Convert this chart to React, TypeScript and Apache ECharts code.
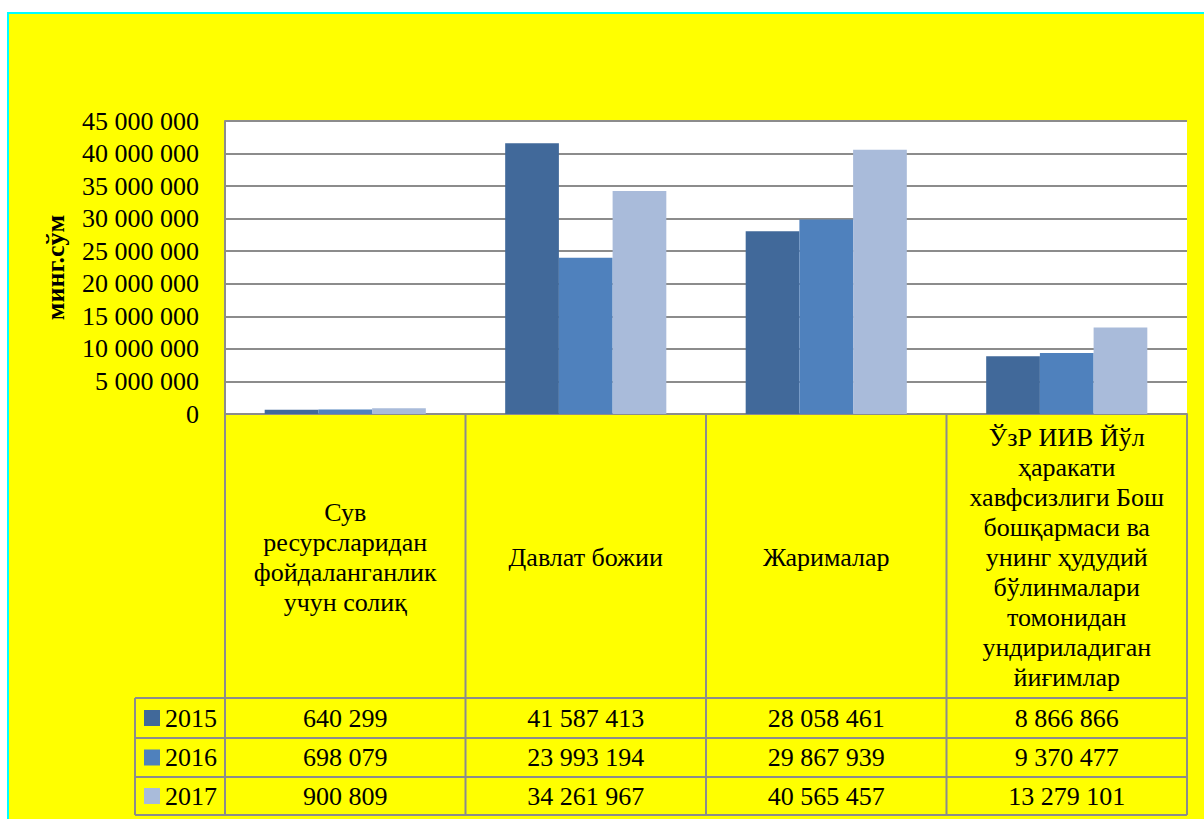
import React, { useEffect, useRef } from "react";
import * as echarts from "echarts";

const categories = [
  "Сув\nресурсларидан\nфойдаланганлик\nучун солиқ",
  "Давлат божии",
  "Жарималар",
  "ЎзР ИИВ Йўл\nҳаракати\nхавфсизлиги Бош\nбошқармаси ва\nунинг ҳудудий\nбўлинмалари\nтомонидан\nундириладиган\nйиғимлар",
];
const years = ["2015", "2016", "2017"];
const values2015 = [640299, 41587413, 28058461, 8866866];
const values2016 = [698079, 23993194, 29867939, 9370477];
const values2017 = [900809, 34261967, 40565457, 13279101];
const seriesValues = [values2015, values2016, values2017];
const colors = ["#41699A", "#4F81BD", "#A9BBDA"];
const axisName = "минг.сўм";
const yMin = 0;
const yMax = 45000000;
const yInterval = 5000000;

const FONT = "Times New Roman, Liberation Serif, DejaVu Serif, serif";
const fmt = (n: number) => String(n).replace(/\B(?=(\d{3})+(?!\d))/g, " ");

export default function App() {
  const ref = useRef<HTMLDivElement>(null);
  useEffect(() => {
    if (!ref.current) return;
    const chart = echarts.init(ref.current, undefined, { renderer: "svg" });
    const gridLeft = 225;
    const gridRight = 1187;
    const gridTop = 121;
    const axisY = 414;
    const colW = (gridRight - gridLeft) / categories.length;
    const rowLines = [698, 738, 777, 815];
    const tableLeft = 135;
    const lineStyle = { stroke: "#8c8c8c", lineWidth: 2 };
    const graphics: any[] = [];
    for (let j = 0; j <= categories.length; j++) {
      const x = gridLeft + colW * j;
      graphics.push({
        type: "line",
        shape: { x1: x, y1: axisY, x2: x, y2: rowLines[3] },
        style: lineStyle,
        silent: true,
      });
    }
    graphics.push({
      type: "line",
      shape: { x1: tableLeft, y1: rowLines[0], x2: tableLeft, y2: rowLines[3] },
      style: lineStyle,
      silent: true,
    });
    rowLines.forEach((y) =>
      graphics.push({
        type: "line",
        shape: { x1: tableLeft, y1: y, x2: gridRight, y2: y },
        style: lineStyle,
        silent: true,
      })
    );
    years.forEach((yr, i) => {
      const cy = (rowLines[i] + rowLines[i + 1]) / 2;
      graphics.push({
        type: "rect",
        shape: { x: 144, y: cy - 8, width: 16, height: 16 },
        style: { fill: colors[i] },
        silent: true,
      });
      graphics.push({
        type: "text",
        x: 165,
        y: cy,
        style: {
          text: yr,
          fontSize: 26,
          fontFamily: FONT,
          fill: "#000",
          textAlign: "left",
          textVerticalAlign: "middle",
        },
        silent: true,
      });
      seriesValues[i].forEach((v, j) => {
        graphics.push({
          type: "text",
          x: gridLeft + colW * (j + 0.5),
          y: cy,
          style: {
            text: fmt(v),
            fontSize: 26,
            fontFamily: FONT,
            fill: "#000",
            textAlign: "center",
            textVerticalAlign: "middle",
          },
          silent: true,
        });
      });
    });

    chart.setOption({
      animation: false,
      backgroundColor: "transparent",
      textStyle: { fontFamily: FONT },
      grid: {
        left: gridLeft,
        right: 1204 - gridRight,
        top: gridTop,
        bottom: 819 - axisY,
        show: true,
        backgroundColor: "#ffffff",
        borderWidth: 0,
        containLabel: false,
      },
      xAxis: {
        type: "category",
        data: categories,
        axisLine: { show: true, lineStyle: { color: "#8c8c8c", width: 2 } },
        axisTick: { show: false },
        axisLabel: {
          interval: 0,
          margin: 143,
          verticalAlign: "middle",
          align: "center",
          fontSize: 26,
          lineHeight: 30,
          color: "#000",
          fontFamily: FONT,
        },
      },
      yAxis: {
        type: "value",
        min: yMin,
        max: yMax,
        interval: yInterval,
        name: axisName,
        nameLocation: "middle",
        nameGap: 157,
        nameRotate: 90,
        nameTextStyle: {
          fontSize: 26,
          fontWeight: "bold",
          color: "#000",
          fontFamily: FONT,
        },
        axisLine: { show: true, lineStyle: { color: "#8c8c8c", width: 2 } },
        axisTick: { show: false },
        axisLabel: {
          margin: 26,
          fontSize: 26,
          color: "#000",
          fontFamily: FONT,
          formatter: (v: number) => fmt(v),
        },
        splitLine: { show: true, lineStyle: { color: "#8c8c8c", width: 2 } },
      },
      series: years.map((yr, i) => ({
        name: yr,
        type: "bar",
        data: seriesValues[i],
        barGap: "0%",
        barCategoryGap: "33%",
        itemStyle: { color: colors[i] },
      })),
      graphic: graphics,
    });
    return () => chart.dispose();
  }, []);

  return (
    <div style={{ position: "absolute", left: 0, top: 0, width: 1204, height: 819, background: "#fff", overflow: "hidden" }}>
      <div
        style={{
          position: "absolute",
          left: 7,
          top: 12,
          right: 0,
          bottom: 0,
          background: "#ffff00",
          borderLeft: "2px solid #00ffff",
          borderTop: "2px solid #00ffff",
        }}
      />
      <div ref={ref} style={{ position: "absolute", left: 0, top: 0, width: 1204, height: 819 }} />
    </div>
  );
}
